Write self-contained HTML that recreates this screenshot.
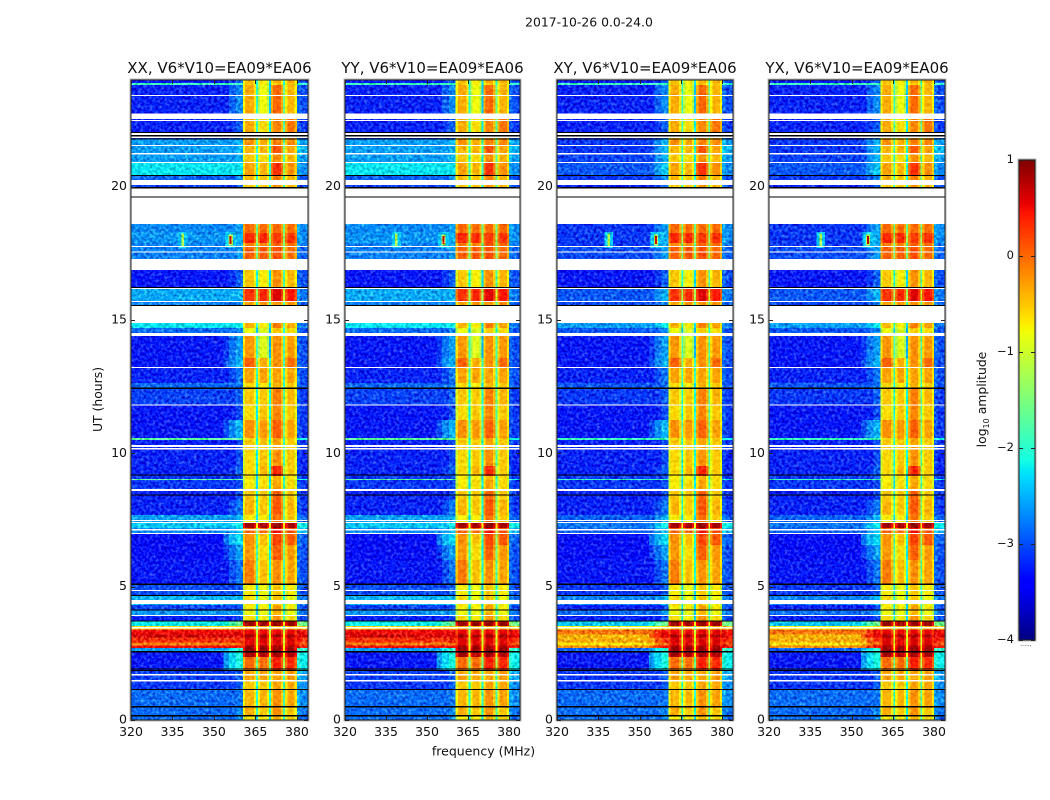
<!DOCTYPE html>
<html lang="en">
<head>
<meta charset="utf-8">
<title>2017-10-26 0.0-24.0</title>
<style>
html,body{margin:0;padding:0;background:#fff;}
svg{display:block;}
text{font-family:"DejaVu Sans","Liberation Sans",sans-serif;fill:#111;}
</style>
</head>
<body>
<svg id="figure" xmlns="http://www.w3.org/2000/svg" width="1050" height="800" viewBox="0 0 1050 800">
  <defs>
    <filter id="speckle" filterUnits="userSpaceOnUse" x="120" y="70" width="840" height="660" color-interpolation-filters="sRGB">
      <feTurbulence type="fractalNoise" baseFrequency="0.34" numOctaves="2" seed="7" result="n"/>
      <feColorMatrix in="n" type="matrix" values="1 0 0 0 0  1 0 0 0 0  1 0 0 0 0  0 0 0 0 1" result="g"/>
      <feComposite in="SourceGraphic" in2="g" operator="arithmetic" k1="0" k2="1" k3="0.85" k4="-0.425" result="mix"/>
      <feComposite in="mix" in2="SourceAlpha" operator="in"/>
    </filter>
    <filter id="speckle-soft" filterUnits="userSpaceOnUse" x="120" y="70" width="840" height="660" color-interpolation-filters="sRGB">
      <feTurbulence type="fractalNoise" baseFrequency="0.3" numOctaves="2" seed="11" result="n"/>
      <feColorMatrix in="n" type="matrix" values="1 0 0 0 0  1 0 0 0 0  1 0 0 0 0  0 0 0 0 1" result="g"/>
      <feComposite in="SourceGraphic" in2="g" operator="arithmetic" k1="0" k2="1" k3="0.35" k4="-0.175" result="mix"/>
      <feComposite in="mix" in2="SourceAlpha" operator="in"/>
    </filter>
    <linearGradient id="jet-gradient" x1="0" y1="1" x2="0" y2="0"></linearGradient>
  </defs>
  <text x="589" y="26.5" font-size="12.4" text-anchor="middle">2017-10-26 0.0-24.0</text>
  <text x="483.5" y="755.5" font-size="12.5" text-anchor="middle">frequency (MHz)</text>
  <text x="102" y="399.5" font-size="12.4" text-anchor="middle" transform="rotate(-90 102 399.5)">UT (hours)</text>
  <text x="986" y="399.5" font-size="12.4" text-anchor="middle" transform="rotate(-90 986 399.5)">log<tspan font-size="8" dy="3">10</tspan><tspan dy="-3"> amplitude</tspan></text>
</svg>
<script>
// ---------- chart data ----------
const panelTitles = ["XX, V6*V10=EA09*EA06", "YY, V6*V10=EA09*EA06", "XY, V6*V10=EA09*EA06", "YX, V6*V10=EA09*EA06"];
const freqTicks = [320, 335, 350, 365, 380];
const utTicks = [0, 5, 10, 15, 20];
const colorbarTicks = [-4, -3, -2, -1, 0, 1];
const freqRange = [320, 384];
const utRange = [0, 24];
const levelRange = [-4, 1];

// Frequency channels (MHz), which level column each reads, and passband roll-off (log10)
const channelEdges = [320, 353.5, 355.5, 358, 360.5, 361.3, 364.4, 365.2, 365.9, 366.7, 369.1, 369.9, 370.6, 371.4, 374.2, 375, 375.7, 376.5, 379.2, 380, 381.2, 384];
const channelColumn = [0, 2, 2, 2, 3, 3, 3, 3, 4, 4, 4, 4, 5, 5, 5, 5, 6, 6, 6, 7, 7];
const channelRolloff = [0, -0.5, -0.2, 0, -0.4, 0, -0.35, -1.6, -0.35, 0, -0.35, -1.6, -0.35, 0, -0.35, -1.6, -0.35, 0, -0.35, 0.15, 0];

// UT boundaries of the time segments (hours, descending)
const utEdges = [24, 23.89, 23.81, 22.73, 22.05, 21.79, 21.53, 21.23, 20.89, 20.44, 20.25, 19.99, 18.6, 18.26, 17.89, 17.74, 17.29, 16.88, 16.24, 15.71, 15.56, 14.89, 14.7, 14.51, 13.58, 13.24, 12.64, 12.45, 11.81, 11.25, 10.58, 10.5, 10.13, 9.53, 9.15, 9.04, 9, 8.59, 8.25, 7.69, 7.39, 7.2, 7.01, 6.56, 6, 5.06, 4.65, 4.31, 4.13, 3.9, 3.71, 3.52, 3.4, 3.2, 3.1, 2.9, 2.8, 2.7, 2.59, 2.36, 1.88, 1.46, 1.13, 0.45, 0.15, 0];

// log10 amplitude, one row per time segment:
// [parallel-hand background, cross-hand background, ramp, sub-band 1, sub-band 2, sub-band 3, sub-band 4, right edge]
const segmentLevels = [
  [-3.25, -3.25, -2.9, -0.45, -0.7, -0.35, -0.35, -3],    // 24 - 23.89
  [-1.9, -1.9, -1.9, -0.5, -0.7, -0.5, -0.5, -2],         // 23.89 - 23.81
  [-3.2, -3.2, -2.7, -0.35, -0.8, 0, -0.4, -3],           // 23.81 - 22.73
  [-3.2, -3.2, -2.9, -0.35, -0.6, -0.15, -0.05, -3.1],    // 22.73 - 22.05
  [-3.2, -3.2, -2.9, -0.4, -0.6, -0.2, -0.2, -3],         // 22.05 - 21.79
  [-2.6, -3.1, -2.5, -0.2, -0.35, -0.1, -0.15, -2.6],     // 21.79 - 21.53
  [-2.6, -3.1, -2.5, -0.4, -0.4, 0.1, -0.3, -2.5],        // 21.53 - 21.23
  [-2.6, -3.05, -2.5, -0.5, -0.6, -0.2, -0.4, -2.6],      // 21.23 - 20.89
  [-2.25, -2.95, -2.4, -0.3, -0.4, 0.3, -0.2, -2.7],      // 20.89 - 20.44
  [-2.9, -3.1, -2.7, -0.4, -0.5, -0.1, -0.4, -3],         // 20.44 - 20.25
  [-3.1, -3.2, -2.9, -0.5, -0.5, -0.2, -0.4, -3],         // 20.25 - 19.99
  [-3, -3, -3, -1, -1, -1, -1, -3],                       // 19.99 - 18.6 (flagged)
  [-2.7, -3.1, -2.6, 0, 0, 0, 0, -2.7],                   // 18.6 - 18.26
  [-2.65, -3.1, -2.5, 0.35, 0.35, 0.25, 0.3, -2.7],       // 18.26 - 17.89
  [-2.75, -3.1, -2.6, -0.1, -0.1, 0.1, 0, -2.8],          // 17.89 - 17.74
  [-2.75, -3, -2.6, 0.05, 0.1, 0.15, 0, -2.9],            // 17.74 - 17.29
  [-3, -3, -3, -1, -1, -1, -1, -3],                       // 17.29 - 16.88 (flagged)
  [-3.25, -3.25, -2.9, -0.5, -0.7, -0.2, -0.4, -3],       // 16.88 - 16.24
  [-2.55, -2.95, -2.5, 0.3, 0.35, 0.6, 0.45, -2.8],       // 16.24 - 15.71
  [-2.75, -3, -2.7, -0.3, -0.2, -0.2, -0.2, -2.9],        // 15.71 - 15.56
  [-3, -3, -3, -1, -1, -1, -1, -3],                       // 15.56 - 14.89 (flagged)
  [-2.25, -2.6, -2.2, -0.4, -0.7, -0.1, -0.3, -2.8],      // 14.89 - 14.7
  [-2.85, -2.95, -2.7, -0.8, -0.9, -0.5, -0.6, -3],       // 14.7 - 14.51
  [-3.25, -3.25, -2.6, -0.25, -0.9, -0.2, -0.25, -3],     // 14.51 - 13.58
  [-3.25, -3.25, -2.5, 0.05, -0.35, -0.2, 0, -3],         // 13.58 - 13.24
  [-3.2, -3.2, -2.8, -0.3, -0.3, -0.3, -0.3, -3],         // 13.24 - 12.64
  [-2.85, -2.95, -2.8, -0.6, -0.7, -0.4, -0.5, -3],       // 12.64 - 12.45
  [-3.05, -3.1, -2.9, -0.5, -0.5, -0.1, -0.4, -3.1],      // 12.45 - 11.81
  [-3.25, -3.25, -3, -0.6, -0.5, -0.15, -0.5, -3.1],      // 11.81 - 11.25
  [-3.25, -3.25, -2.5, -0.2, -0.25, 0.05, -0.3, -3.1],    // 11.25 - 10.58
  [-1.7, -1.9, -1.9, -0.6, -0.4, -0.3, -0.5, -2.2],       // 10.58 - 10.5
  [-3.2, -3.2, -3, -0.5, -0.5, -0.3, -0.5, -3.1],         // 10.5 - 10.13
  [-3.2, -3.2, -3, -0.6, -0.5, -0.2, -0.5, -3.2],         // 10.13 - 9.53
  [-3.2, -3.2, -2.9, -0.6, -0.4, 0.35, -0.5, -3.2],       // 9.53 - 9.15
  [-3.1, -3.1, -3, -0.7, -0.7, -0.4, -0.6, -3.1],         // 9.15 - 9.04
  [-1.7, -1.9, -1.9, -0.7, -0.7, -0.4, -0.6, -2.2],       // 9.04 - 9
  [-3.1, -3.1, -3, -0.7, -0.6, -0.3, -0.6, -3.1],         // 9 - 8.59
  [-3.2, -3.2, -3, -0.5, -0.5, 0.05, -0.5, -3.1],         // 8.59 - 8.25
  [-3.2, -3.2, -2.8, -0.4, -0.5, 0.1, -0.4, -3.1],        // 8.25 - 7.69
  [-2.6, -2.9, -2.5, -0.7, -0.7, -0.05, -0.5, -2.9],      // 7.69 - 7.39
  [-2.4, -2.8, -2.2, 0.85, 0.85, 0.95, 0.85, -2.2],       // 7.39 - 7.2
  [-2.7, -2.9, -2.4, 0.05, 0, 0.5, 0.15, -2.5],           // 7.2 - 7.01
  [-3.3, -3.3, -2.3, -0.2, -0.45, 0.2, 0.1, -2.9],        // 7.01 - 6.56
  [-3.3, -3.3, -2.6, -0.25, -0.6, 0.05, -0.25, -3],       // 6.56 - 6
  [-3.25, -3.25, -2.8, -0.1, -0.45, -0.2, -0.3, -3],      // 6 - 5.06
  [-3, -3.1, -2.9, -0.7, -0.8, -0.5, -0.7, -3],           // 5.06 - 4.65
  [-2.5, -2.75, -2.45, -0.6, -0.8, -0.5, -0.8, -2.8],     // 4.65 - 4.31
  [-3.05, -3.2, -3, -0.7, -0.7, -0.3, -0.7, -3],          // 4.31 - 4.13
  [-2.65, -2.85, -2.6, -0.8, -0.8, -0.4, -0.8, -2.8],     // 4.13 - 3.9
  [-3.2, -3.2, -3, -0.6, -0.7, -0.2, -0.6, -3],           // 3.9 - 3.71
  [-2.2, -2.4, -1.6, 0.9, 0.9, 0.9, 0.9, -1.6],           // 3.71 - 3.52
  [-0.6, -0.8, -0.6, -0.3, -0.3, -0.3, -0.3, -0.6],       // 3.52 - 3.4
  [0.5, -0.05, 0.5, 0.55, 0.55, 0.55, 0.55, 0.45],        // 3.4 - 3.2
  [0.65, -0.45, 0.6, 0.85, 0.85, 0.85, 0.85, 0.55],       // 3.2 - 3.1
  [0.3, -0.35, 0.3, 0.6, 0.6, 0.6, 0.6, 0.3],             // 3.1 - 2.9
  [-0.1, -0.65, 0, 0.6, 0.6, 0.6, 0.6, 0.1],              // 2.9 - 2.8
  [0.5, -0.2, 0.5, 0.85, 0.85, 0.85, 0.85, 0.4],          // 2.8 - 2.7
  [-2.6, -2.9, -2, 0.9, 0.9, 0.9, 0.9, -2],               // 2.7 - 2.59
  [-3.25, -3.25, -2.1, 0.85, 0.8, 0.85, 0.8, -2.2],       // 2.59 - 2.36
  [-3.25, -3.25, -2.1, 0, 0, 0.4, 0.35, -2.2],            // 2.36 - 1.88
  [-3.05, -3.1, -2.9, -0.3, -0.3, -0.3, -0.25, -2.6],     // 1.88 - 1.46
  [-3.1, -3.1, -2.9, -0.5, -0.5, -0.3, -0.3, -2.7],       // 1.46 - 1.13
  [-2.85, -2.85, -2.8, -0.4, -0.4, -0.2, -0.3, -2.7],     // 1.13 - 0.45
  [-2.85, -2.85, -2.7, -0.35, -0.5, -0.2, -0.5, -2.8],    // 0.45 - 0.15
  [-2.85, -2.85, -2.7, -0.7, -0.7, -0.4, -0.6, -2.9]      // 0.15 - 0
];

// Fully flagged time ranges (white) and zero-valued rows (black), hours [from, to]
const flaggedStart = [23.40, 22.54, 22.46, 21.94, 21.83, 21.52, 21.21, 20.88, 20.06, 18.6, 17.73, 17.53, 16.88, 16.16, 15.67, 14.89, 14.4, 13.2, 11.79, 10.24, 10.14, 8.59, 7.46, 7.38, 7.11, 6.98, 4.84, 4.35, 3.9, 3.43, 1.67, 1.45];
const flaggedEnd = [23.44, 22.74, 22.5, 22.03, 21.89, 21.56, 21.26, 20.92, 20.25, 19.95, 17.78, 17.57, 17.29, 16.2, 15.71, 15.53, 14.51, 13.24, 11.83, 10.31, 10.2, 8.66, 7.5, 7.42, 7.16, 7.02, 4.88, 4.5, 3.94, 3.49, 1.73, 1.5];
const blackStart = [22.01, 21.89, 21.77, 20.40, 19.94, 19.6, 16.2, 15.53, 12.42, 9.17, 8.41, 5.07, 4.65, 4.11, 3.70, 2.54, 1.9, 1.83, 1.13, 0.47, 0.14];
const blackEnd = [22.05, 21.93, 21.81, 20.44, 19.98, 19.64, 16.24, 15.57, 12.46, 9.21, 8.45, 5.11, 4.69, 4.15, 3.74, 2.58, 1.94, 1.87, 1.17, 0.53, 0.18];

// Narrow-band interference near 18 UT: halo first, then core
const spurFreq = [338.8, 338.8, 356, 356, 356];
const spurWidth = [3.2, 0.9, 4, 1.6, 0.6];
const spurUtTop = [18.3, 18.25, 18.3, 18.2, 18.15];
const spurUtBottom = [17.7, 17.75, 17.7, 17.8, 17.85];
const spurLevel = [-2.4, -1.2, -2.4, -1.2, 0.7];

// ---------- layout ----------
const axesBoxes = [[131, 308], [345, 520], [557, 733], [769, 945]];
const axesTop = 80, axesBottom = 720;
const barLeft = 1019, barRight = 1035, barTop = 160, barBottom = 640;
const NS = "http://www.w3.org/2000/svg";
const svg = document.getElementById("figure");

function make(tag, attrs, parent) {
  const el = document.createElementNS(NS, tag);
  for (const k in attrs) el.setAttribute(k, attrs[k]);
  parent.appendChild(el);
  return el;
}
function yScale(ut) {
  return axesBottom - (ut - utRange[0]) / (utRange[1] - utRange[0]) * (axesBottom - axesTop);
}
function xScaleFor(box) {
  return f => box[0] + (f - freqRange[0]) / (freqRange[1] - freqRange[0]) * (box[1] - box[0]);
}
function barY(v) {
  return barBottom - (v - levelRange[0]) / (levelRange[1] - levelRange[0]) * (barBottom - barTop);
}
function interp(points, t) {
  for (let i = 1; i < points.length; i++) {
    if (t <= points[i][0]) {
      const a = points[i - 1], b = points[i];
      return a[1] + (b[1] - a[1]) * (t - a[0]) / (b[0] - a[0]);
    }
  }
  return points[points.length - 1][1];
}
const jetR = [[0, 0], [0.35, 0], [0.66, 1], [0.89, 1], [1, 0.5]];
const jetG = [[0, 0], [0.125, 0], [0.375, 1], [0.64, 1], [0.91, 0], [1, 0]];
const jetB = [[0, 0.5], [0.11, 1], [0.34, 1], [0.65, 0], [1, 0]];
function jet(t) {
  t = Math.max(0, Math.min(1, t));
  return "rgb(" + Math.round(255 * interp(jetR, t)) + "," + Math.round(255 * interp(jetG, t)) + "," + Math.round(255 * interp(jetB, t)) + ")";
}
function levelColor(v) {
  return jet((v - levelRange[0]) / (levelRange[1] - levelRange[0]));
}

// ---------- panels ----------
panelTitles.forEach(function (title, p) {
  const box = axesBoxes[p];
  const x = xScaleFor(box);
  const bgColumn = p >= 2 ? 1 : 0;
  const panel = make("g", {}, svg);
  
  

  const clipId = "clip-" + p;
  const clip = make("clipPath", { id: clipId }, panel);
  make("rect", { x: box[0], y: axesTop, width: box[1] - box[0], height: axesBottom - axesTop }, clip);

  const clipper = make("g", { "clip-path": "url(#" + clipId + ")" }, panel);
  
  

  const heat = make("g", { filter: "url(#speckle)", "shape-rendering": "crispEdges" }, clipper);
  
  
  const bands = make("g", { filter: "url(#speckle-soft)", "shape-rendering": "crispEdges" }, clipper);
  
  

  segmentLevels.forEach(function (levels, s) {
    const yTop = yScale(utEdges[s]), yBot = yScale(utEdges[s + 1]);
    const bg = levels[bgColumn];
    channelColumn.forEach(function (col, c) {
      const source = col === 0 ? bgColumn : col;
      let v = levels[source] + channelRolloff[c];
      if (col === 2) v = Math.max(v, bg);
      if (col >= 3 && col <= 6) v = Math.max(v, -2.6);
      const xa = x(channelEdges[c]), xb = x(channelEdges[c + 1]);
      const host = (col >= 3 && col <= 6) ? bands : heat;
      const cell = make("rect", { x: xa, y: yTop, width: xb - xa, height: yBot - yTop, fill: levelColor(v) }, host);
      
      
    });
  });
  spurFreq.forEach(function (f, i) {
    const xa = x(f - spurWidth[i] / 2), xb = x(f + spurWidth[i] / 2);
    const spur = make("rect", { x: xa, y: yScale(spurUtTop[i]), width: xb - xa, height: yScale(spurUtBottom[i]) - yScale(spurUtTop[i]), fill: levelColor(spurLevel[i]) }, heat);
    
    
  });

  flaggedStart.forEach(function (lo, i) {
    const band = make("rect", { x: box[0], y: yScale(flaggedEnd[i]), width: box[1] - box[0], height: yScale(lo) - yScale(flaggedEnd[i]), fill: "#fff", "shape-rendering": "crispEdges" }, clipper);
    
    
  });
  blackStart.forEach(function (lo, i) {
    const line = make("rect", { x: box[0], y: yScale(blackEnd[i]), width: box[1] - box[0], height: yScale(lo) - yScale(blackEnd[i]), fill: "#000", "shape-rendering": "crispEdges" }, clipper);
    
    
  });

  // frame
  const halo = make("rect", { x: box[0] - 1, y: axesTop - 1, width: box[1] - box[0] + 2, height: axesBottom - axesTop + 2, fill: "none", stroke: "#b8b8b8", "stroke-width": 1, "shape-rendering": "crispEdges" }, panel);
  
  
  const frame = make("rect", { x: box[0], y: axesTop, width: box[1] - box[0], height: axesBottom - axesTop, fill: "none", stroke: "#222", "stroke-width": 1, "shape-rendering": "crispEdges" }, panel);
  
  

  // ticks
  freqTicks.forEach(function (f) {
    const tx = Math.round(x(f)) + 0.5;
    const t1 = make("line", { x1: tx, x2: tx, y1: axesBottom, y2: axesBottom - 4, stroke: "#222" }, panel);
    
    
    const t2 = make("line", { x1: tx, x2: tx, y1: axesTop, y2: axesTop + 4, stroke: "#222" }, panel);
    
    
    const lab = make("text", { x: x(f), y: 736, "font-size": 12.5, "text-anchor": "middle" }, panel);
    lab.textContent = String(f);
    
    
  });
  utTicks.forEach(function (u) {
    const ty = Math.round(yScale(u)) + 0.5;
    const t1 = make("line", { x1: box[0], x2: box[0] + 4, y1: ty, y2: ty, stroke: "#222" }, panel);
    
    
    const t2 = make("line", { x1: box[1], x2: box[1] - 4, y1: ty, y2: ty, stroke: "#222" }, panel);
    
    
    const lab = make("text", { x: box[0] - 4, y: yScale(u) + 3.5, "font-size": 12.5, "text-anchor": "end" }, panel);
    lab.textContent = String(u);
    
    
  });

  const ttl = make("text", { x: (box[0] + box[1]) / 2, y: 73, "font-size": 15, "text-anchor": "middle" }, panel);
  ttl.textContent = title;
  
  
});

// ---------- colorbar ----------
const grad = document.getElementById("jet-gradient");
[0, 0.11, 0.125, 0.34, 0.35, 0.375, 0.64, 0.65, 0.66, 0.89, 0.91, 1].forEach(function (s) {
  make("stop", { offset: s, "stop-color": jet(s) }, grad);
});
const cbar = make("g", {}, svg);


const ramp = make("rect", { x: barLeft, y: barTop, width: barRight - barLeft, height: barBottom - barTop, fill: "url(#jet-gradient)" }, cbar);


const barHalo = make("rect", { x: barLeft - 1, y: barTop - 1, width: barRight - barLeft + 2, height: barBottom - barTop + 2, fill: "none", stroke: "#b8b8b8", "shape-rendering": "crispEdges" }, cbar);


const barFrame = make("rect", { x: barLeft, y: barTop, width: barRight - barLeft, height: barBottom - barTop, fill: "none", stroke: "#222", "shape-rendering": "crispEdges" }, cbar);


colorbarTicks.forEach(function (v) {
  const ty = Math.round(barY(v)) + 0.5;
  const a = make("line", { x1: barLeft, x2: barLeft + 4, y1: ty, y2: ty, stroke: "#222" }, cbar);
  
  
  const b = make("line", { x1: barRight, x2: barRight - 4, y1: ty, y2: ty, stroke: "#222" }, cbar);
  
  
  const lab = make("text", { x: barLeft - 5, y: barY(v) + 3, "font-size": 11.5, "text-anchor": "end" }, cbar);
  lab.textContent = String(v).replace("-", "\u2212");
  
  
});
const dots = make("text", { x: 1026, y: 646, "font-size": 6, "text-anchor": "middle", fill: "#999" }, cbar);
dots.textContent = "......";


</script>
</body>
</html>
